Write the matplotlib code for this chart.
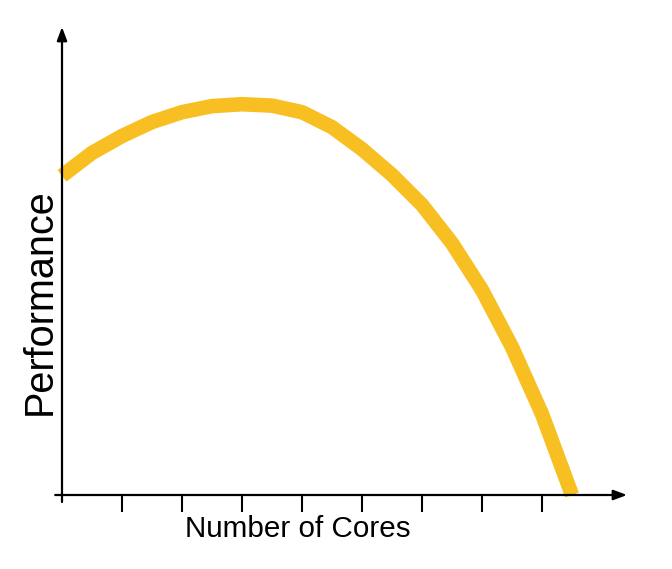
import matplotlib
matplotlib.use("Agg")
import matplotlib.pyplot as plt

plt.rcParams['font.family'] = ['Liberation Sans', 'DejaVu Sans']

# number of cores (tick units) and relative performance
cores = [0, 0.5, 1, 1.5, 2, 2.5, 3, 3.5, 4, 4.5, 5, 5.5, 6, 6.5, 7, 7.5, 8, 8.5]
performance = [68.2, 73.1, 76.7, 79.7, 81.8, 83.1, 83.5, 83.2, 81.8, 78.6,
               73.9, 68.4, 62.0, 53.8, 43.8, 31.6, 17.3, 0.0]
tick_pos = [1, 2, 3, 4, 5, 6, 7, 8]

yellow = '#F8BF22'

fig = plt.figure(figsize=(6.72, 5.69), dpi=100)
ax = fig.add_axes([62/672, 74/569, 565/672, 468/569])
ax.set_xlim(0, 565/60)
ax.set_ylim(0, 100)

ax.plot(cores, performance, color=yellow, lw=10.5, solid_joinstyle='round',
        solid_capstyle='butt', clip_on=False, zorder=3)

for s in ax.spines.values():
    s.set_visible(False)

# axes with arrow heads
ax.annotate('', xy=(1, 0), xytext=(-0.012, 0), xycoords='axes fraction',
            arrowprops=dict(arrowstyle='-|>,head_length=0.8,head_width=0.3',
                            lw=1.6, color='black', shrinkA=0, shrinkB=0),
            zorder=4)
ax.annotate('', xy=(0, 1), xytext=(0, -0.015), xycoords='axes fraction',
            arrowprops=dict(arrowstyle='-|>,head_length=0.8,head_width=0.3',
                            lw=1.6, color='black', shrinkA=0, shrinkB=0),
            zorder=4)

ax.set_xticks(tick_pos)
ax.set_xticklabels([])
ax.set_yticks([])
ax.tick_params(axis='x', direction='out', length=12, width=1.5, color='black')

fig.text(298/672, 1 - 537/569, 'Number of Cores', ha='center', va='baseline',
         fontsize=21.3)
fig.text(40/672, 1 - 302/569, 'Performance', ha='center', va='center',
         rotation=90, fontsize=28.5)

fig.savefig('out.png', dpi=100)
